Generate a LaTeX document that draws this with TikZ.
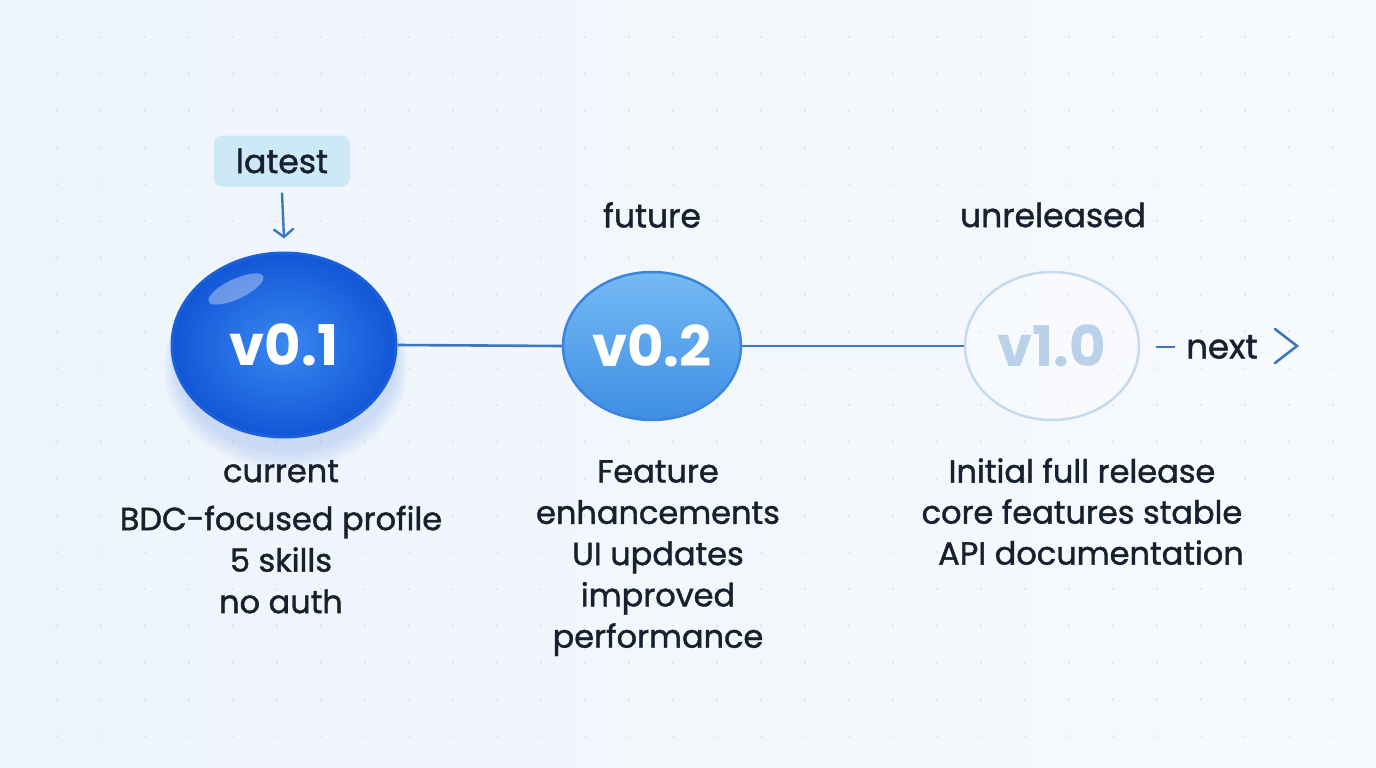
\documentclass[tikz,border=0pt]{standalone}
\usepackage{fontspec}
\setmainfont{Poppins}[BoldFont=Poppins, BoldFeatures={FakeBold=1.3}]
\newfontfamily\verfont{Poppins}
\usetikzlibrary{shapes.geometric,arrows.meta}
\definecolor{bgA}{HTML}{EDF4FB}
\definecolor{bgB}{HTML}{F7FAFD}
\definecolor{dotc}{HTML}{D3E2F2}
\definecolor{ink}{HTML}{16202E}
\definecolor{linec}{HTML}{3D78BE}
\definecolor{tagc}{HTML}{CDE8F6}
\definecolor{oneIn}{HTML}{3A88F2}
\definecolor{oneOut}{HTML}{1256D6}
\definecolor{oneBorder}{HTML}{1A60DA}
\definecolor{twoTop}{HTML}{74BAF4}
\definecolor{twoBot}{HTML}{3F8EE4}
\definecolor{twoBorder}{HTML}{3A86DC}
\definecolor{faint}{HTML}{C6DAEE}
\definecolor{faintText}{HTML}{B9D1E9}
\begin{document}
\begin{tikzpicture}[x=1pt,y=-1pt,
  txt/.style={text=ink, font=\fontsize{32}{42}\selectfont\bfseries, align=center, inner sep=0pt},
  lbl/.style={text=ink, font=\fontsize{33}{36}\selectfont\bfseries, inner sep=0pt},
  ver/.style={font=\fontsize{56}{60}\selectfont\verfont\bfseries, inner sep=0pt},
  conn/.style={draw=linec, line width=2.6pt}]
\useasboundingbox (0,0) rectangle (1376,768);
\shade[left color=bgA, right color=bgB] (0,0) rectangle (1376,768);
\foreach \i in {0,...,29}
  \foreach \j in {0,...,19}
    \fill[dotc] ({57+44*\i},{37+36.8*\j}) circle (1.2pt);
% soft glow under v0.1
\foreach \k in {0,...,6}
  \fill[oneOut, opacity=0.025] (286,{362+\k}) ellipse [x radius={110+2*\k}, y radius={90+2*\k}];
% nodes
\node[ellipse, minimum width=224pt, minimum height=184pt, inner color=oneIn, outer color=oneOut,
      draw=oneBorder, line width=3pt] (v1) at (284,345) {};
\fill[white, opacity=0.35, rotate around={25:(236,289)}] (236,289) ellipse [x radius=30, y radius=10];
\node[ver, text=white] at (v1.center) {v0.1};
\node[ellipse, minimum width=178pt, minimum height=148pt, top color=twoTop, bottom color=twoBot,
      draw=twoBorder, line width=2.5pt] (v2) at (652,346) {};
\node[ver, text=white] at (v2.center) {v0.2};
\node[ellipse, minimum width=174pt, minimum height=148pt, draw=faint, line width=2.5pt, fill=white, fill opacity=0.3] (v3) at (1052,346) {};
\node[ver, text=faintText] at (v3.center) {v1.0};
% connectors
\draw[conn] (v1.east) -- (v2.west);
\draw[conn] (v2.east) -- (v3.west);
% latest tag
\node[rounded corners=8pt, fill=tagc, minimum width=136pt, minimum height=51pt, lbl] (tag) at (282,161) {latest};
\draw[conn, line width=2.4pt, -{Straight Barb[length=8pt,width=20pt,line width=2.4pt]}] ([yshift=-6pt]tag.south) -- ([yshift=13pt]v1.north);
% top labels
\node[lbl] (fut) at (652,215) {future};
\node[lbl] (unr) at (1053,215) {unreleased};
% next
\node[lbl, font=\fontsize{34}{36}\selectfont\bfseries] (nx) at (1222,347) {next};
\draw[conn, line width=2.4pt] ([xshift=-30pt]nx.west) -- ([xshift=-11pt]nx.west);
\draw[conn, line width=2.6pt, line cap=round, line join=miter] (1275,329) -- (1297,346) -- (1275,363);
% descriptions
\node[txt, anchor=north, font=\fontsize{32}{41.5}\selectfont\bfseries] (d1) at (281,460) {current\\[6.5pt]BDC-focused profile\\5 skills\\no auth};
\node[txt, anchor=north, font=\fontsize{32}{41.3}\selectfont\bfseries] (d2) at (658,460) {Feature\\enhancements\\UI updates\\improved\\performance};
\node[txt, anchor=north, font=\fontsize{32}{41}\selectfont\bfseries] (d3) at (1082,458) {Initial full release\\core features stable\\\hspace*{18pt}API documentation};
\end{tikzpicture}
\end{document}
